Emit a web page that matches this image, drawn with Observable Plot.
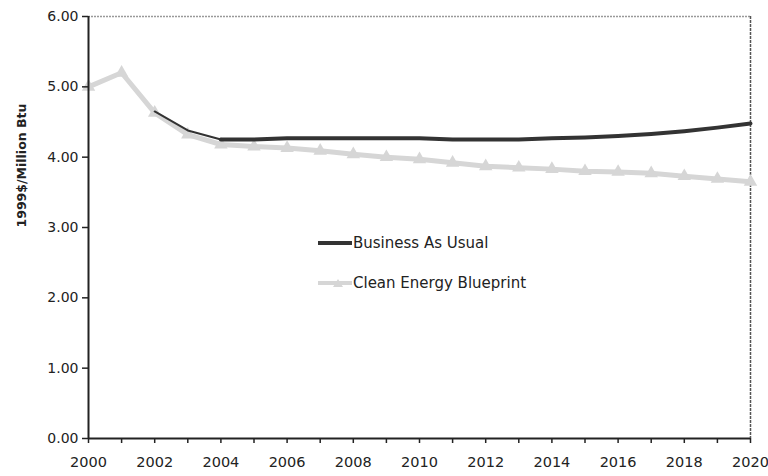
<!DOCTYPE html>
<html>
<head>
<meta charset="utf-8">
<script src="https://cdn.jsdelivr.net/npm/d3@7"></script>
<script src="https://cdn.jsdelivr.net/npm/@observablehq/plot@0.6"></script>
<style>
  html, body { margin: 0; padding: 0; background: #fff; }
  #wrap { position: relative; width: 768px; height: 476px; font-family: "DejaVu Sans", sans-serif; }
  #legend { position: absolute; left: 318px; top: 233px; font-size: 15px; color: #222; }
  #legend .row { display: flex; align-items: center; height: 20px; margin-bottom: 20px; }
  #legend svg { margin-right: 1px; }
</style>
</head>
<body>
<div id="wrap"></div>
<script>
const years = d3.range(2000, 2021);
const businessAsUsual = [5.00, 5.20, 4.65, 4.38, 4.25, 4.25, 4.27, 4.27, 4.27, 4.27, 4.27, 4.25, 4.25, 4.25, 4.27, 4.28, 4.30, 4.33, 4.37, 4.42, 4.48];
const cleanEnergyBlueprint = [5.00, 5.20, 4.63, 4.32, 4.18, 4.15, 4.13, 4.09, 4.04, 4.00, 3.97, 3.92, 3.87, 3.85, 3.83, 3.80, 3.79, 3.77, 3.73, 3.69, 3.65];
const seriesNames = ["Business As Usual", "Clean Energy Blueprint"];
const seriesColors = ["#333333", "#d6d6d6"];
const yTicks = [0, 1, 2, 3, 4, 5, 6];
const xLabelTicks = d3.range(2000, 2021, 2);
const yTitle = "1999$/Million Btu";

const bau = years.map((y, i) => ({year: y, value: businessAsUsual[i]}));
const ceb = years.map((y, i) => ({year: y, value: cleanEnergyBlueprint[i]}));

const chart = Plot.plot({
  width: 768,
  height: 476,
  marginLeft: 88,
  marginRight: 18,
  marginTop: 16,
  marginBottom: 38,
  style: {fontFamily: "'DejaVu Sans', sans-serif", fontSize: "14px", color: "#222", background: "#fff"},
  x: {domain: [2000, 2020], label: null},
  y: {domain: [0, 6], label: null},
  marks: [
    Plot.ruleY([6], {stroke: "#999", strokeWidth: 1.5, strokeDasharray: "2,1"}),
    Plot.ruleX([2020], {stroke: "#555", strokeWidth: 1.5, strokeDasharray: "3,1"}),
    Plot.line(ceb, {x: "year", y: "value", stroke: seriesColors[1], strokeWidth: 5}),
    Plot.dot(ceb, {x: "year", y: "value", symbol: "triangle", fill: seriesColors[1], r: 5}),
    Plot.line(bau.filter(d => d.year >= 2002), {x: "year", y: "value", stroke: seriesColors[0], strokeWidth: 2}),
    Plot.line(bau.filter(d => d.year >= 2004), {x: "year", y: "value", stroke: seriesColors[0], strokeWidth: 4}),
    Plot.axisX(years, {tickSize: 5, tickFormat: () => "", stroke: "#222", strokeWidth: 1.5, label: null}),
    Plot.axisX(xLabelTicks, {tickSize: 0, tickPadding: 18, tickFormat: d => String(d), fontSize: 14.5, label: null}),
    Plot.axisY(yTicks, {tickSize: 6, tickPadding: 4, tickFormat: d => d.toFixed(2), fontSize: 14, label: null, stroke: "#222", strokeWidth: 1.5}),
    Plot.ruleX([2000], {stroke: "#222", strokeWidth: 2}),
    Plot.ruleY([0], {stroke: "#222", strokeWidth: 2}),
    Plot.text([yTitle], {frameAnchor: "left", dx: -67, rotate: -90, fontWeight: "bold", fontSize: 12.5, fill: "#222"})
  ]
});

const wrap = document.getElementById("wrap");
wrap.appendChild(chart);

const legend = document.createElement("div");
legend.id = "legend";
seriesNames.forEach((name, i) => {
  const row = document.createElement("div");
  row.className = "row";
  const sw = i === 0
    ? `<svg width="34" height="10"><line x1="0" y1="5" x2="34" y2="5" stroke="${seriesColors[0]}" stroke-width="4"/></svg>`
    : `<svg width="34" height="10"><line x1="0" y1="5" x2="34" y2="5" stroke="${seriesColors[1]}" stroke-width="4"/><path d="M20,1 L25,9 L15,9 Z" fill="${seriesColors[1]}"/></svg>`;
  row.innerHTML = sw + `<span>${name}</span>`;
  legend.appendChild(row);
});
wrap.appendChild(legend);
</script>
</body>
</html>
